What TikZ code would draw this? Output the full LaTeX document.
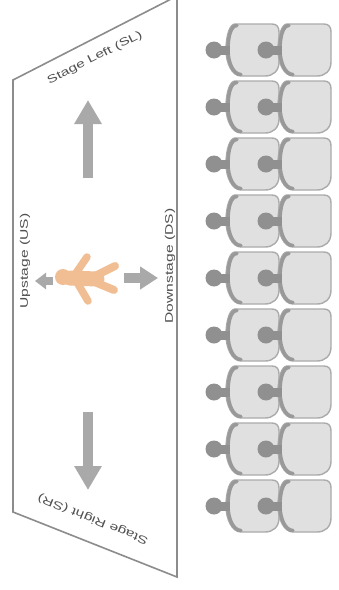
\documentclass[tikz,border=0pt]{standalone}
\usepackage{fontspec}
\setmainfont{Liberation Sans}
\newfontfamily\widefont[FakeStretch=1.42]{Liberation Sans}
\usetikzlibrary{arrows.meta}
\definecolor{edgegray}{HTML}{8C8C8C}
\definecolor{arrowgray}{HTML}{A9A9A9}
\definecolor{labelgray}{HTML}{505050}
\definecolor{seatfill}{HTML}{E0E0E0}
\definecolor{seatline}{HTML}{ABABAB}
\definecolor{seatback}{HTML}{999999}
\definecolor{headgray}{HTML}{909090}
\definecolor{skin}{HTML}{F1BE93}
\tikzset{
  stagelabel/.style={font=\widefont\fontsize{11}{13}\selectfont, text=labelgray, inner sep=0pt},
  blockarrow/.style={line width=10pt, draw=arrowgray, -{Triangle[width=26pt,length=24pt]}},
  smallarrow/.style={line width=8pt, draw=arrowgray, -{Triangle[width=16pt,length=11pt]}},
  sidearrow/.style={line width=10pt, draw=arrowgray, -{Triangle[width=22pt,length=18pt]}},
  limb/.style={draw=skin, line cap=round},
  seat/.pic={
    \path[fill=seatfill, draw=seatline, line width=1.4pt]
      (8,-26) -- (45,-26) .. controls (50,-26) and (52,-23) .. (52,-18)
      -- (52,12) .. controls (52,21) and (46,26) .. (38,26)
      -- (14,26) .. controls (5,26) and (-1,13) .. (-1,0)
      .. controls (-1,-15) and (3,-26) .. (8,-26) -- cycle;
    \draw[seatback, line width=3.5pt, line cap=round]
      (14,24.5) .. controls (6,24.5) and (1,12) .. (1,0)
      .. controls (1,-14) and (4,-24.5) .. (10,-24.5);
    \fill[headgray] (-13,-4.5) rectangle (3,4.5);
    \fill[headgray] (-13,0) circle (8.5);
  }
}
\begin{document}
\begin{tikzpicture}[x=1pt,y=-1pt]
\useasboundingbox (0,0) rectangle (339,590);
\fill[white] (0,0) rectangle (339,590);
\clip (0,0) rectangle (339,590);

% stage floor seen in perspective
\draw[edgegray, line width=1.6pt, line join=miter]
  (13,80) -- (177,-4) -- (177,577) -- (13,512) -- cycle;

% direction labels
\node[stagelabel, rotate=27]  (sl) at (95,58)  {Stage Left (SL)};
\node[stagelabel, rotate=158] (sr) at (93,519) {Stage Right (SR)};
\node[stagelabel, rotate=90]  (us) at (25,261) {Upstage (US)};
\node[stagelabel, rotate=90]  (ds) at (170,266) {Downstage (DS)};

% direction arrows
\coordinate (upS) at (88,178);   \coordinate (upE) at (88,100);
\coordinate (dnS) at (88,412);   \coordinate (dnE) at (88,490);
\coordinate (ltS) at (53,281);   \coordinate (ltE) at (35,281);
\coordinate (rtS) at (124,278);  \coordinate (rtE) at (158,278);
\draw[blockarrow] (upS) -- (upE);
\draw[blockarrow] (dnS) -- (dnE);
\draw[smallarrow] (ltS) -- (ltE);
\draw[sidearrow]  (rtS) -- (rtE);

% actor on stage, seen from above
\draw[limb, line width=7.5pt] (76,273) -- (87,257);
\draw[limb, line width=7.5pt] (78,284) -- (88,301);
\draw[limb, line width=8pt] (97,275) -- (115,266);
\draw[limb, line width=8pt] (97,283) -- (114,290);
\draw[limb, line width=15pt] (70,278) -- (97,279);
\fill[skin] (63,277) circle (8);

% audience: two columns of nine seats
\foreach \i in {0,...,8} {
  \pic at (227,{50+57*\i}) {seat};
  \pic at (279,{50+57*\i}) {seat};
}
\end{tikzpicture}
\end{document}
